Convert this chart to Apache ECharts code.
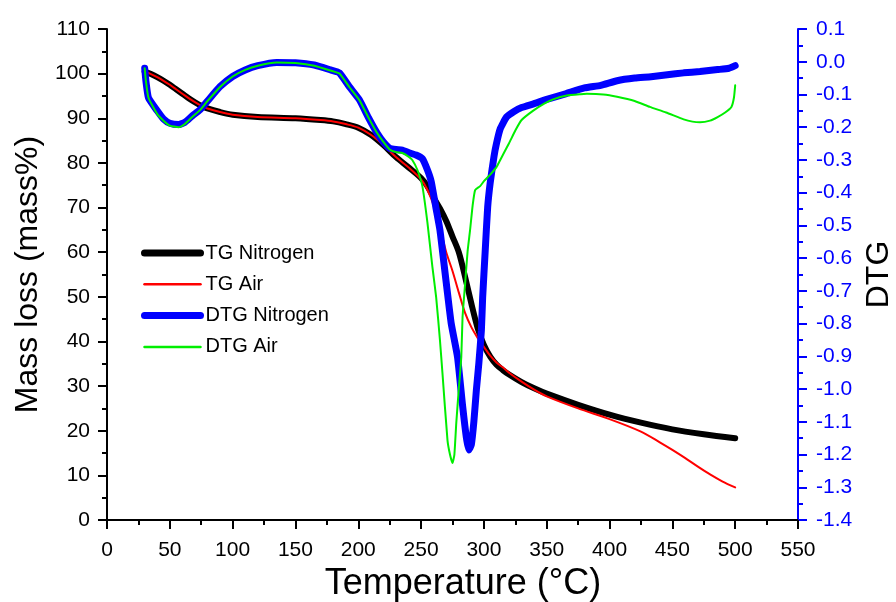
<!DOCTYPE html>
<html>
<head>
<meta charset="utf-8">
<script src="https://cdn.jsdelivr.net/npm/echarts@6/dist/echarts.min.js"></script>
<style>
  html, body { margin: 0; padding: 0; background: #fff; }
  #chart { width: 896px; height: 602px; }
</style>
</head>
<body>
<div id="chart"></div>
<script>
// Thermogravimetric curves: mass (left axis) and derivative (right axis) vs temperature
const seriesNames = ['TG Nitrogen', 'TG Air', 'DTG Nitrogen', 'DTG Air'];

const tgNitrogenT = [30, 35, 40, 45, 50, 55, 60, 65, 70, 75, 80, 90, 100, 120, 150, 170, 180, 190, 200, 210, 220, 230, 240, 250, 255, 260, 265, 270, 275, 280, 285, 290, 295, 300, 305, 310, 315, 320, 330, 340, 350, 375, 400, 425, 450, 475, 500];
const tgNitrogenV = [100.5, 99.9, 99.2, 98.4, 97.5, 96.5, 95.5, 94.5, 93.6, 92.8, 92.2, 91.4, 90.8, 90.3, 90.0, 89.6, 89.3, 88.7, 87.9, 86.3, 84.0, 81.3, 79.0, 76.6, 74.8, 72.2, 69.8, 67.0, 63.5, 60.0, 54.5, 48.5, 43.0, 39.2, 36.6, 34.8, 33.6, 32.6, 30.9, 29.5, 28.3, 25.8, 23.6, 21.8, 20.3, 19.2, 18.3];

const tgAirT = [30, 35, 40, 45, 50, 55, 60, 65, 70, 75, 80, 90, 100, 120, 150, 170, 180, 190, 200, 210, 220, 230, 240, 250, 255, 260, 265, 270, 275, 280, 285, 290, 295, 300, 305, 310, 315, 320, 330, 340, 350, 375, 400, 425, 440, 450, 460, 470, 480, 490, 500];
const tgAirV = [100.5, 99.9, 99.2, 98.4, 97.5, 96.5, 95.5, 94.5, 93.6, 92.8, 92.2, 91.4, 90.8, 90.3, 90.0, 89.6, 89.3, 88.7, 87.9, 86.3, 84.0, 81.3, 79.0, 76.3, 74.0, 70.5, 65.5, 60.0, 55.8, 51.0, 46.4, 43.2, 40.8, 38.8, 36.8, 35.3, 34.2, 33.0, 31.0, 29.2, 27.7, 25.0, 22.6, 19.8, 17.4, 15.7, 13.9, 12.0, 10.2, 8.6, 7.3];

const dtgNitrogenT = [30, 31, 33, 40, 45, 50, 57, 62, 68, 74, 80, 90, 100, 110, 120, 135, 150, 165, 178, 185, 193, 201, 208, 215, 220, 225, 230, 235, 241, 246, 251, 255, 258, 262, 265, 268, 271, 274, 279, 283, 286, 288, 290, 292, 294, 296, 298, 299, 301, 303, 305, 308, 310, 313, 318, 324, 330, 340, 350, 365, 380, 393, 406, 420, 433, 446, 459, 472, 486, 495, 500];
const dtgNitrogenV = [-0.02, -0.06, -0.11, -0.15, -0.175, -0.188, -0.192, -0.185, -0.165, -0.147, -0.12, -0.076, -0.045, -0.025, -0.012, -0.002, -0.003, -0.01, -0.025, -0.034, -0.077, -0.117, -0.17, -0.218, -0.245, -0.264, -0.268, -0.27, -0.279, -0.285, -0.296, -0.33, -0.365, -0.45, -0.514, -0.61, -0.707, -0.8, -0.902, -1.05, -1.147, -1.186, -1.17, -1.1, -1.003, -0.92, -0.82, -0.72, -0.58, -0.444, -0.37, -0.29, -0.25, -0.205, -0.169, -0.152, -0.14, -0.128, -0.115, -0.098, -0.08, -0.072, -0.058, -0.05, -0.046, -0.04, -0.034, -0.03, -0.024, -0.02, -0.012];

const dtgAirT = [30, 31, 33, 40, 45, 50, 57, 62, 68, 74, 80, 90, 100, 110, 120, 135, 150, 165, 178, 185, 193, 201, 208, 215, 220, 225, 230, 235, 240, 243, 247, 251, 255, 259, 262, 265, 267, 271, 273, 275, 276.5, 278, 280, 282, 283, 285, 287, 289, 291, 293, 297, 300, 305, 310, 313, 320, 325, 330, 339, 348, 355, 366, 377, 382, 395, 406, 420, 432, 445, 459, 466, 472, 480, 486, 492, 497, 499, 500];
const dtgAirV = [-0.02, -0.06, -0.11, -0.16, -0.18, -0.195, -0.2, -0.19, -0.168, -0.148, -0.12, -0.077, -0.045, -0.025, -0.012, -0.002, -0.004, -0.012, -0.027, -0.036, -0.078, -0.118, -0.17, -0.218, -0.245, -0.268, -0.276, -0.279, -0.29, -0.3, -0.33, -0.38, -0.49, -0.627, -0.72, -0.85, -0.951, -1.156, -1.2, -1.226, -1.2, -1.104, -1.0, -0.902, -0.78, -0.68, -0.58, -0.514, -0.44, -0.392, -0.38, -0.365, -0.345, -0.322, -0.3, -0.249, -0.21, -0.178, -0.15, -0.128, -0.115, -0.103, -0.099, -0.098, -0.1, -0.107, -0.12, -0.138, -0.155, -0.176, -0.183, -0.185, -0.18, -0.169, -0.155, -0.138, -0.11, -0.072];

// Axis ticks
const xTicks = { min: 0, max: 550, step: 50 };
const massTicks = { min: 0, max: 110, step: 10 };
const dtgTicks = { min: -1.4, max: 0.1, step: 0.1 };

const pairs = (xs, ys) => xs.map((x, i) => [x, ys[i]]);

const FONT = 'Liberation Sans, Arial, sans-serif';
const BLUE = '#0000ff';
const GREEN = '#00ee00';

const chart = echarts.init(document.getElementById('chart'), null, { renderer: 'canvas' });

const lineSeries = (name, data, color, width, yAxisIndex, smooth) => ({
  name,
  type: 'line',
  yAxisIndex,
  data,
  symbol: 'none',
  smooth,
  lineStyle: { color, width, cap: 'round', join: 'round' },
  itemStyle: { color },
  z: 2
});

// legend entries: plain line samples, no marker
const legendEntry = (name, color, width) => ({
  name,
  itemStyle: { opacity: 0 },
  lineStyle: { width, cap: 'round', color }
});

chart.setOption({
  animation: false,
  backgroundColor: '#ffffff',
  grid: { left: 107, right: 98, top: 29, bottom: 82, containLabel: false, outerBoundsMode: 'none' },
  legend: {
    orient: 'vertical',
    left: 141,
    top: 243,
    padding: 0,
    itemWidth: 56,
    itemHeight: 20,
    itemGap: 11.3,
    textStyle: { fontFamily: FONT, fontSize: 20, color: '#000' },
    data: [
      legendEntry(seriesNames[0], '#000000', 7),
      legendEntry(seriesNames[1], '#ff0000', 2.5),
      legendEntry(seriesNames[2], BLUE, 7),
      legendEntry(seriesNames[3], GREEN, 2.5)
    ]
  },
  xAxis: {
    type: 'value',
    min: xTicks.min,
    max: xTicks.max,
    interval: xTicks.step,
    name: 'Temperature (°C)',
    nameLocation: 'middle',
    nameGap: 38,
    nameTextStyle: { fontFamily: FONT, fontSize: 36, color: '#000', padding: [0, 0, 0, 21] },
    axisLine: { show: true, onZero: false, lineStyle: { color: '#000', width: 2 } },
    axisTick: { show: true, inside: false, length: 9, lineStyle: { color: '#000', width: 2 } },
    minorTick: { show: true, splitNumber: 2, length: 5, lineStyle: { color: '#000', width: 2 } },
    axisLabel: { fontFamily: FONT, fontSize: 21, color: '#000', margin: 20 },
    splitLine: { show: false }
  },
  yAxis: [
    {
      type: 'value',
      position: 'left',
      min: massTicks.min,
      max: massTicks.max,
      interval: massTicks.step,
      name: 'Mass loss (mass%)',
      nameLocation: 'middle',
      nameRotate: 90,
      nameGap: 56,
      nameTextStyle: { fontFamily: FONT, fontSize: 32, color: '#000' },
      axisLine: { show: true, onZero: false, lineStyle: { color: '#000', width: 2 } },
      axisTick: { show: true, inside: false, length: 9, lineStyle: { color: '#000', width: 2 } },
      minorTick: { show: true, splitNumber: 2, length: 5, lineStyle: { color: '#000', width: 2 } },
      axisLabel: { fontFamily: FONT, fontSize: 21, color: '#000', margin: 17 },
      splitLine: { show: false }
    },
    {
      type: 'value',
      position: 'right',
      min: dtgTicks.min,
      max: dtgTicks.max,
      interval: dtgTicks.step,
      name: 'DTG',
      nameLocation: 'middle',
      nameRotate: 90,
      nameGap: 64,
      nameTextStyle: { fontFamily: FONT, fontSize: 32, color: '#000' },
      axisLine: { show: true, onZero: false, lineStyle: { color: BLUE, width: 2 } },
      axisTick: { show: true, inside: false, length: 9, lineStyle: { color: BLUE, width: 2 } },
      minorTick: { show: true, splitNumber: 2, length: 5, lineStyle: { color: BLUE, width: 2 } },
      axisLabel: {
        fontFamily: FONT, fontSize: 21, color: BLUE, margin: 18,
        formatter: v => (Math.abs(v) < 1e-9 ? 0 : v).toFixed(1)
      },
      splitLine: { show: false }
    }
  ],
  series: [
    lineSeries(seriesNames[0], pairs(tgNitrogenT, tgNitrogenV), '#000000', 6, 0, 0.3),
    lineSeries(seriesNames[1], pairs(tgAirT, tgAirV), '#ff0000', 2, 0, 0.3),
    lineSeries(seriesNames[2], pairs(dtgNitrogenT, dtgNitrogenV), BLUE, 7, 1, 0.15),
    lineSeries(seriesNames[3], pairs(dtgAirT, dtgAirV), GREEN, 2, 1, 0.15)
  ]
});
</script>
</body>
</html>
